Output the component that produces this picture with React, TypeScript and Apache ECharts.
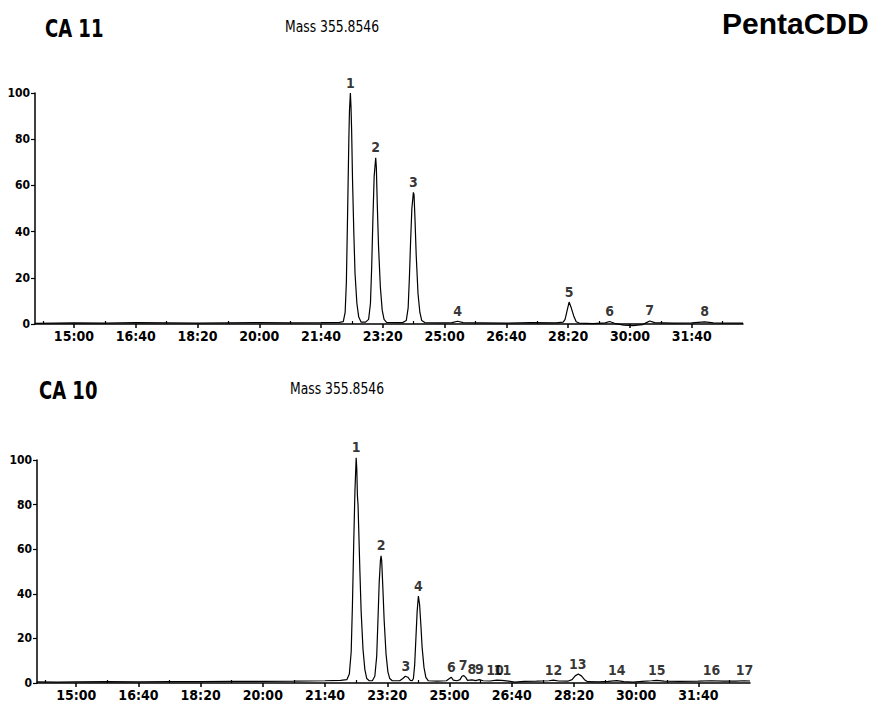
import React, { useEffect, useRef } from "react";
import * as echarts from "echarts";

// ---------- data ----------
const X_MIN = 837;
const X_MAX = 1983;
const majorTickSeconds = [900, 1000, 1100, 1200, 1300, 1400, 1500, 1600, 1700, 1800, 1900];
const majorTickLabels = ["15:00", "16:40", "18:20", "20:00", "21:40", "23:20", "25:00", "26:40", "28:20", "30:00", "31:40"];
const minorTickSeconds = [850, 950, 1050, 1150, 1250, 1350, 1450, 1550, 1650, 1750, 1850, 1950];
const yTicks = [0, 20, 40, 60, 80, 100];

// CA 11 trace: [retention time (s), relative abundance]
const ca11Trace: [number, number][] = [
  [837, 0.3], [870, 0.4], [900, 0.5], [950, 0.4], [1000, 0.6], [1050, 0.5], [1100, 0.4], [1150, 0.5],
  [1200, 0.6], [1250, 0.5], [1300, 0.6], [1330, 0.7],
  [1336, 1], [1339, 5], [1341, 18], [1343, 48], [1345, 80], [1346, 92], [1347.5, 100], [1348.5, 94],
  [1349.5, 84], [1351, 62], [1353, 40], [1355, 22], [1358, 9], [1361, 3], [1365, 0.8],
  [1372, 0.8], [1377, 2], [1380, 9], [1382, 25], [1384, 46], [1386, 64], [1388.5, 72], [1389.5, 68],
  [1391, 52], [1393, 34], [1396, 16], [1399, 6], [1402, 2], [1406, 0.7],
  [1432, 0.6], [1438, 1.5], [1441, 7], [1443, 20], [1445, 36], [1447, 50], [1449.5, 57], [1450.5, 56],
  [1452, 46], [1454, 30], [1457, 13], [1460, 5], [1463, 1.5], [1468, 0.6],
  [1490, 0.5], [1512, 0.6], [1521, 1.2], [1530, 0.6], [1560, 0.5], [1600, 0.4], [1640, 0.6], [1680, 0.5],
  [1692, 0.8], [1695, 2], [1698, 5.5], [1701.5, 9.5], [1705, 7], [1709, 3.5], [1713, 1], [1718, 0.4],
  [1740, 0.2], [1760, 0.5], [1767, 1.1], [1775, 0.3], [1790, -0.5], [1805, -0.7], [1820, -0.3],
  [1826, 0.5], [1832, 1.3], [1840, 0.6], [1870, 0.4], [1900, 0.5], [1921, 0.9], [1935, 0.5],
  [1960, 0.4], [1983, 0.4],
];
const ca11PeakNames = ["1", "2", "3", "4", "5", "6", "7", "8"];
const ca11PeakTimes = [1347.5, 1388.5, 1449.5, 1521, 1701.5, 1767, 1832, 1921];
const ca11PeakHeights = [100, 72, 57, 1.2, 9.5, 1.1, 1.3, 0.9];

// CA 10 trace
const ca10Trace: [number, number][] = [
  [837, 0.5], [870, 0.4], [900, 0.5], [950, 0.6], [1000, 0.5], [1050, 0.6], [1100, 0.6], [1150, 0.7],
  [1200, 0.7], [1250, 0.8], [1300, 1], [1325, 1.2],
  [1335, 1.5], [1339, 4], [1342, 14], [1344, 35], [1346, 62], [1348, 86], [1350, 101], [1351, 96],
  [1352, 84], [1353, 80], [1354, 70], [1356, 50], [1358, 32], [1361, 15], [1364, 6], [1367, 2], [1371, 1],
  [1376, 1], [1380, 3], [1383, 12], [1385, 28], [1387, 45], [1389, 55], [1390, 57], [1391, 55],
  [1393, 42], [1395, 28], [1398, 13], [1401, 5], [1404, 2], [1408, 1],
  [1420, 1], [1425, 2], [1429, 3], [1433, 2.6], [1437, 1.2], [1440, 1],
  [1442, 2], [1444, 8], [1446, 20], [1448, 32], [1450, 39], [1452, 35], [1454, 26], [1456, 16],
  [1459, 7], [1462, 2.5], [1466, 1],
  [1480, 0.8], [1495, 1], [1500, 2], [1503, 2.6], [1506, 1.3], [1512, 1], [1517, 1.5], [1520, 3],
  [1523, 3.3], [1526, 2.5], [1529, 1.2], [1536, 1.4], [1542, 1.1], [1548, 1.5], [1554, 1], [1565, 0.9],
  [1576, 1.3], [1584, 1.2], [1595, 0.8], [1605, 0.4], [1620, 0.7], [1640, 0.8], [1660, 1], [1667, 1.3],
  [1675, 0.9], [1690, 0.8], [1697, 1.5], [1702, 3.2], [1707, 4], [1712, 3.2], [1717, 1.5], [1722, 0.6],
  [1740, 0.5], [1755, 0.7], [1769, 1.1], [1780, 0.6], [1795, 0.4], [1810, 0.7], [1825, 1], [1833, 1.2],
  [1845, 0.8], [1870, 0.7], [1900, 0.8], [1921, 1], [1940, 0.8], [1960, 0.8], [1974, 1], [1983, 0.9],
];
const ca10PeakNames = ["1", "2", "3", "4", "6", "7", "8", "9", "10", "11", "12", "13", "14", "15", "16", "17"];
const ca10PeakTimes = [1350, 1390, 1430, 1450, 1503, 1522, 1536, 1548, 1573, 1585, 1667, 1706, 1769, 1833, 1921, 1974];
const ca10PeakHeights = [101, 57, 3, 39, 2.6, 3.3, 1.4, 1.5, 1.3, 1.2, 1.3, 4, 1.1, 1.2, 1, 1];

const panelTitles = ["CA 11", "CA 10"];
const massLabel = "Mass 355.8546";
const compoundTitle = "PentaCDD";

// ---------- styles ----------
const FONT = "'DejaVu Sans Condensed', 'DejaVu Sans', sans-serif";
const BLACK = "#000";

function xAxes(gridIndex: number) {
  return [
    {
      type: "value",
      gridIndex,
      min: X_MIN,
      max: X_MAX,
      axisLine: { show: true, onZero: false, lineStyle: { color: BLACK, width: 1.5 } },
      axisTick: { show: true, customValues: majorTickSeconds, length: 4, lineStyle: { color: BLACK, width: 1.5 } },
      axisLabel: {
        show: true,
        customValues: majorTickSeconds,
        formatter: (v: number) => majorTickLabels[majorTickSeconds.indexOf(Math.round(v))] ?? "",
        color: BLACK,
        fontFamily: FONT,
        fontWeight: "bold",
        fontSize: 14,
        margin: 5,
      },
      splitLine: { show: false },
    },
    {
      type: "value",
      gridIndex,
      min: X_MIN,
      max: X_MAX,
      axisLine: { show: false },
      axisTick: { show: true, customValues: minorTickSeconds, length: 3, lineStyle: { color: BLACK, width: 1.2 } },
      axisLabel: { show: false },
      splitLine: { show: false },
    },
  ];
}

function yAxis(gridIndex: number) {
  return {
    type: "value",
    gridIndex,
    min: 0,
    max: 100,
    interval: 20,
    axisLine: { show: true, onZero: false, lineStyle: { color: BLACK, width: 1.5 } },
    axisTick: { show: true, length: 4, lineStyle: { color: BLACK, width: 1.2 } },
    axisLabel: {
      show: true,
      color: BLACK,
      fontFamily: FONT,
      fontWeight: "bold",
      fontSize: 12,
      margin: 5,
      formatter: (v: number) => (yTicks.includes(v) ? String(v) : ""),
    },
    splitLine: { show: false },
  };
}

function traceSeries(data: [number, number][], xAxisIndex: number, yAxisIndex: number) {
  return {
    type: "line",
    xAxisIndex,
    yAxisIndex,
    data,
    showSymbol: false,
    symbol: "none",
    silent: true,
    clip: false,
    lineStyle: { color: BLACK, width: 1.2 },
  };
}

function labelSeries(names: string[], times: number[], heights: number[], xAxisIndex: number, yAxisIndex: number) {
  return {
    type: "scatter",
    xAxisIndex,
    yAxisIndex,
    symbol: "circle",
    symbolSize: 1,
    silent: true,
    clip: false,
    itemStyle: { color: "rgba(0,0,0,0)" },
    data: names.map((n, i) => ({ name: n, value: [times[i], heights[i]] })),
    label: {
      show: true,
      position: "top",
      distance: 3,
      formatter: "{b}",
      color: BLACK,
      fontFamily: FONT,
      fontWeight: "bold",
      fontSize: 14,
    },
    labelLayout: { hideOverlap: false },
  };
}

export default function App() {
  const ref = useRef<HTMLDivElement>(null);
  useEffect(() => {
    if (!ref.current) return;
    const chart = echarts.init(ref.current, undefined, { renderer: "svg" });
    chart.setOption({
      animation: false,
      backgroundColor: "#fff",
      grid: [
        { left: 35, top: 93, width: 708, height: 231 },
        { left: 37, top: 460, width: 713, height: 223 },
      ],
      xAxis: [...xAxes(0), ...xAxes(1)],
      yAxis: [yAxis(0), yAxis(1)],
      series: [
        traceSeries(ca11Trace, 0, 0),
        labelSeries(ca11PeakNames, ca11PeakTimes, ca11PeakHeights, 0, 0),
        traceSeries(ca10Trace, 2, 1),
        labelSeries(ca10PeakNames, ca10PeakTimes, ca10PeakHeights, 2, 1),
      ],
      graphic: [
        {
          type: "text", x: 45, y: 28, scaleX: 0.8,
          style: { text: panelTitles[0], font: `bold 25px ${FONT}`, fill: BLACK, verticalAlign: "middle" },
        },
        {
          type: "text", x: 285, y: 27, scaleX: 0.86,
          style: { text: massLabel, font: `16px ${FONT}`, fill: BLACK, verticalAlign: "middle" },
        },
        {
          type: "text", x: 722, y: 23,
          style: { text: compoundTitle, font: "bold 30px 'Liberation Sans', Arial, sans-serif", fill: BLACK, verticalAlign: "middle" },
        },
        {
          type: "text", x: 39, y: 390, scaleX: 0.8,
          style: { text: panelTitles[1], font: `bold 25px ${FONT}`, fill: BLACK, verticalAlign: "middle" },
        },
        {
          type: "text", x: 290, y: 389, scaleX: 0.86,
          style: { text: massLabel, font: `16px ${FONT}`, fill: BLACK, verticalAlign: "middle" },
        },
      ],
    });
    return () => chart.dispose();
  }, []);
  return (
    <div
      ref={ref}
      style={{ position: "fixed", left: 0, top: 0, width: 887, height: 707, background: "#fff" }}
    />
  );
}
